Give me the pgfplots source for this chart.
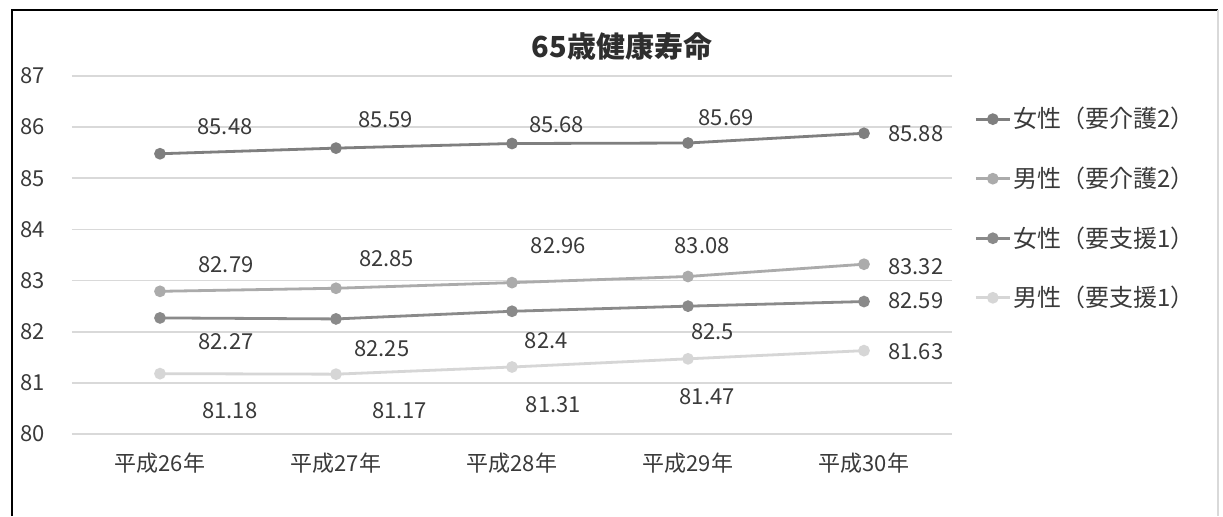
\documentclass[border=0pt]{standalone}
\usepackage{fontspec}
\setmainfont{Noto Sans CJK JP}
\usepackage{pgfplots}
\pgfplotsset{compat=1.18}
\definecolor{sA}{HTML}{7F7F7F}
\definecolor{sB}{HTML}{ABABAB}
\definecolor{sC}{HTML}{8A8A8A}
\definecolor{sD}{HTML}{D6D6D6}
\definecolor{txt}{HTML}{3A3A3A}
\definecolor{gridc}{HTML}{D9D9D9}
\begin{document}
\begin{tikzpicture}[x=1pt,y=1pt]
\useasboundingbox (0,0) rectangle (611.5,258);
\fill[white] (0,0) rectangle (611.5,258);
\draw[line width=1.2pt,black] (6,0) -- (6,253) -- (609,253);
\draw[line width=0.8pt,gridc] (609,253) -- (609,0);
\begin{axis}[
  at={(36pt,41pt)}, anchor=south west,
  scale only axis, width=440pt, height=179pt,
  xmin=-0.5, xmax=4.5, ymin=80, ymax=87,
  xtick={0,1,2,3,4},
  xticklabels={平成26年,平成27年,平成28年,平成29年,平成30年},
  ytick={80,81,82,83,84,85,86,87},
  axis line style={draw=none},
  major tick length=0pt,
  xtick style={draw=none}, ytick style={draw=none},
  xmajorgrids=false, ymajorgrids=true,
  y grid style={gridc, line width=0.8pt},
  tick label style={font=\fontsize{11}{13}\selectfont, text=txt},
  yticklabel style={xshift=-10pt},
  xticklabel style={yshift=-6pt},
  /pgf/number format/assume math mode=true,
  legend style={at={(1.025,0.63)}, anchor=west, draw=none, fill=none,
    font=\fontsize{12}{14}\selectfont, text=txt, row sep=16pt,
    inner sep=0pt, nodes={inner sep=1pt}},
  legend cell align=left,
  every axis plot/.append style={line width=1.4pt, mark=*, mark size=2.2pt},
  clip=false,
]
\addplot[sA, mark options={fill=sA}] coordinates {(0,85.48) (1,85.59) (2,85.68) (3,85.69) (4,85.88)};
\addlegendentry{女性（要介護2）}
\addplot[sB, mark options={fill=sB}] coordinates {(0,82.79) (1,82.85) (2,82.96) (3,83.08) (4,83.32)};
\addlegendentry{男性（要介護2）}
\addplot[sC, mark options={fill=sC}] coordinates {(0,82.27) (1,82.25) (2,82.4) (3,82.5) (4,82.59)};
\addlegendentry{女性（要支援1）}
\addplot[sD, mark options={fill=sD}] coordinates {(0,81.18) (1,81.17) (2,81.31) (3,81.47) (4,81.63)};
\addlegendentry{男性（要支援1）}
\begin{scope}[every node/.style={font=\fontsize{11}{13}\selectfont, text=txt}]
\node at (axis cs:0.369,86.00) {85.48};
\node at (axis cs:1.282,86.14) {85.59};
\node at (axis cs:2.253,86.04) {85.68};
\node at (axis cs:3.217,86.18) {85.69};
\node at (axis cs:4.295,85.87) {85.88};
\node at (axis cs:0.375,83.32) {82.79};
\node at (axis cs:1.288,83.42) {82.85};
\node at (axis cs:2.264,83.68) {82.96};
\node at (axis cs:3.08,83.68) {83.08};
\node at (axis cs:4.295,83.28) {83.32};
\node at (axis cs:0.375,81.80) {82.27};
\node at (axis cs:1.26,81.66) {82.25};
\node at (axis cs:2.195,81.82) {82.4};
\node at (axis cs:3.14,82.01) {82.5};
\node at (axis cs:4.295,82.60) {82.59};
\node at (axis cs:0.397,80.45) {81.18};
\node at (axis cs:1.362,80.45) {81.17};
\node at (axis cs:2.235,80.57) {81.31};
\node at (axis cs:3.109,80.74) {81.47};
\node at (axis cs:4.295,81.62) {81.63};
\end{scope}
\end{axis}
\node[font=\bfseries\fontsize{14.5}{16}\selectfont, text=txt!80!black] at (311,234.5) {65歳健康寿命};
\end{tikzpicture}
\end{document}
